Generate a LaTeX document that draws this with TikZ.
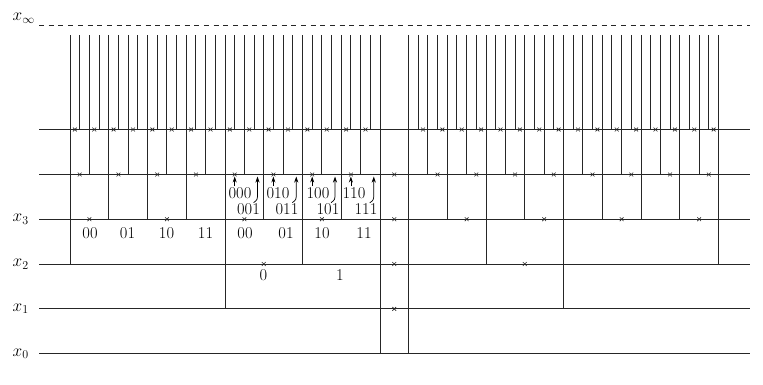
\documentclass[tikz,border=0pt]{standalone}
\usetikzlibrary{arrows.meta}
\begin{document}
\begin{tikzpicture}[x=1pt,y=-1pt,
  ln/.style={line width=1pt, black!85},
  xmark/.style={line width=0.6pt, black!85},
  lbl/.style={inner sep=0pt, font=\fontsize{16.5}{18}\selectfont},
  arr/.style={line width=0.7pt, black, -{Stealth[length=6pt,width=4pt]}},
  xc/.pic={\draw[xmark] (-1.9,-1.9) -- (1.9,1.9) (-1.9,1.9) -- (1.9,-1.9);}
]
\useasboundingbox (0,0) rectangle (763,385);
\def\yinf{25.5}
\def\ytop{35}
\def\yA{129.5}
\def\yB{174.5}
\def\yC{219.2}
\def\yD{264}
\def\yE{308.9}
\def\yF{353.7}
\def\u{9.6875}
\def\L{70}
\def\R{408.5}
% horizontal levels
\draw[ln, dash pattern=on 5pt off 4.7pt] (39,\yinf) -- (750,\yinf);
\foreach \y in {\yA,\yB,\yC,\yD,\yE,\yF}
  \draw[ln] (39,\y) -- (750,\y);
% level labels
\node[lbl, anchor=west] (linf) at (12.5,18.5) {$x_\infty$};
\node[lbl, anchor=west] (l3) at (12.5,\yC) {$x_3$};
\node[lbl, anchor=west] (l2) at (12.5,\yD) {$x_2$};
\node[lbl, anchor=west] (l1) at (12.5,\yE) {$x_1$};
\node[lbl, anchor=west] (l0) at (12.5,\yF) {$x_0$};
% verticals
\foreach \x in {380,\R} \draw[ln] (\x,\yF) -- (\x,\ytop);
\draw[ln] ({\L+16*\u},\yE) -- ({\L+16*\u},\ytop);
\draw[ln] ({\R+16*\u},\yE) -- ({\R+16*\u},\ytop);
\foreach \x in {\L,{\L+24*\u},{\R+8*\u},{\R+32*\u}} \draw[ln] (\x,\yD) -- (\x,\ytop);
\foreach \k in {4,8,12,20,28} \draw[ln] ({\L+\k*\u},\yC) -- ({\L+\k*\u},\ytop);
\foreach \k in {4,12,20,24,28} \draw[ln] ({\R+\k*\u},\yC) -- ({\R+\k*\u},\ytop);
\foreach \k in {2,6,...,30} {
  \draw[ln] ({\L+\k*\u},\yB) -- ({\L+\k*\u},\ytop);
  \draw[ln] ({\R+\k*\u},\yB) -- ({\R+\k*\u},\ytop);
}
\foreach \k in {1,3,...,31} {
  \draw[ln] ({\L+\k*\u},\yA) -- ({\L+\k*\u},\ytop);
  \draw[ln] ({\R+\k*\u},\yA) -- ({\R+\k*\u},\ytop);
}
% crosses
\foreach \y in {\yB,\yC,\yD,\yE} \pic at (394.25,\y) {xc};
\pic at ({\L+20*\u},\yD) {xc};
\pic at ({\R+12*\u},\yD) {xc};
\foreach \k in {2,10,18,26} \pic at ({\L+\k*\u},\yC) {xc};
\foreach \k in {6,14,22,30} \pic at ({\R+\k*\u},\yC) {xc};
\foreach \k in {1,5,...,29} \pic at ({\L+\k*\u},\yB) {xc};
\foreach \k in {3,7,...,31} \pic at ({\R+\k*\u},\yB) {xc};
\foreach \k in {0.5,2.5,...,30.5} \pic at ({\L+\k*\u},\yA) {xc};
\foreach \k in {1.5,3.5,...,31.5} \pic at ({\R+\k*\u},\yA) {xc};
% labels under x3
\node[lbl] (a00) at (90,233) {00};
\node[lbl] (a01) at (127.5,233) {01};
\node[lbl] (a10) at (166.5,233) {10};
\node[lbl] (a11) at (205.5,233) {11};
\node[lbl] (b00) at (245,233) {00};
\node[lbl] (b01) at (286,233) {01};
\node[lbl] (b10) at (322,233) {10};
\node[lbl] (b11) at (364,233) {11};
% labels under x2
\node[lbl] (c0) at (263.5,275) {0};
\node[lbl] (c1) at (340,275) {1};
% labels under the fourth line
\node[lbl] (l000) at (240,193) {000};
\node[lbl] (l010) at (278,193) {010};
\node[lbl] (l100) at (318,193) {100};
\node[lbl] (l110) at (354,193) {110};
\node[lbl] (l001) at (248.5,209) {001};
\node[lbl] (l011) at (287,209) {011};
\node[lbl] (l101) at (328,209) {101};
\node[lbl] (l111) at (366,209) {111};
% arrow targets
\coordinate (t000) at (234.7,176.5);
\coordinate (t010) at (273.4,176.5);
\coordinate (t100) at (312.2,176.5);
\coordinate (t110) at (350.9,176.5);
\coordinate (t001) at (257.5,176.5);
\coordinate (t011) at (296.25,176.5);
\coordinate (t101) at (335,176.5);
\coordinate (t111) at (373.75,176.5);
% straight arrows
\foreach \n in {000,010,100,110}
  \draw[arr] ([yshift=1pt]l\n.north -| t\n) -- (t\n);
% curved arrows
\foreach \n in {001,011,101,111}
  \draw[arr] ([xshift=-4pt,yshift=0.5pt]t\n |- l\n.north)
     .. controls ([yshift=3.5pt]t\n |- l\n.north) .. ([yshift=10pt]t\n |- l\n.north) -- (t\n);
\end{tikzpicture}
\end{document}
